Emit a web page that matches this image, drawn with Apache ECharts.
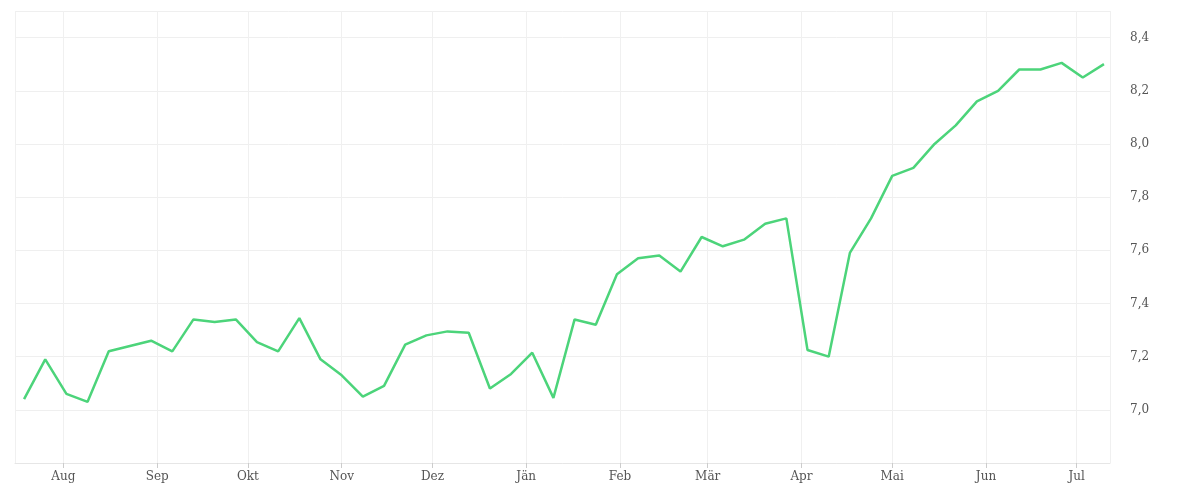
<!DOCTYPE html>
<html>
<head>
<meta charset="utf-8">
<script src="https://cdn.jsdelivr.net/npm/echarts@6/dist/echarts.min.js"></script>
<style>body{margin:0}#main{width:1200px;height:500px}</style>
</head>
<body>
<div id="main"></div>
<script>
var myChart = echarts.init(document.getElementById('main'));

var startDate = '2023-07-19';
var monthNames = ['Jän','Feb','Mär','Apr','Mai','Jun','Jul','Aug','Sep','Okt','Nov','Dez'];
var values = [7.04, 7.19, 7.06, 7.03, 7.22, 7.24, 7.26, 7.22, 7.34, 7.33,
	7.34, 7.255, 7.22, 7.345, 7.19, 7.13, 7.05, 7.09, 7.245, 7.28,
	7.295, 7.29, 7.08, 7.135, 7.215, 7.045, 7.34, 7.32, 7.51, 7.57,
	7.58, 7.52, 7.65, 7.615, 7.64, 7.70, 7.72, 7.225, 7.20, 7.59,
	7.72, 7.88, 7.91, 8.00, 8.07, 8.16, 8.20, 8.28, 8.28, 8.305,
	8.25, 8.30];

var day = 86400000;
var t0 = new Date(startDate + 'T00:00:00').getTime();
var data = [];
for (let i = 0; i < values.length; i++) {
	data.push([t0 + i * 7 * day, values[i]]);
}

option = {
	animation: false,
	grid: { left: 15, right: 90, top: 11, bottom: 37 },
	xAxis: {
		type: 'time',
		min: t0 - 3 * day,
		max: t0 + 51 * 7 * day + 2 * day,
		minInterval: 28 * day,
		maxInterval: 31 * day,
		axisLine: { lineStyle: { color: '#e6e6e6' } },
		axisTick: { show: true, lineStyle: { color: '#ccc' } },
		splitLine: { show: true, lineStyle: { color: '#f0f0f0' } },
		axisLabel: {
			fontFamily: 'DejaVu Serif',
			fontSize: 12,
			color: '#555',
			formatter: function (v) { return monthNames[new Date(v).getMonth()]; }
		}
	},
	yAxis: {
		type: 'value',
		position: 'right',
		min: 6.8,
		max: 8.5,
		interval: 0.2,
		axisLine: { show: false },
		axisTick: { show: false },
		splitLine: { lineStyle: { color: '#efefef' } },
		axisLabel: {
			fontFamily: 'DejaVu Serif',
			fontSize: 12,
			color: '#555',
			margin: 20,
			formatter: function (v) {
				if (v < 6.9 || v > 8.45) return '';
				return v.toFixed(1).replace('.', ',');
			}
		}
	},
	series: [{
		type: 'line',
		data: data,
		showSymbol: false,
		lineStyle: { color: '#4cd47a', width: 2.5 }
	}]
};
myChart.setOption(option);
</script>
</body>
</html>
